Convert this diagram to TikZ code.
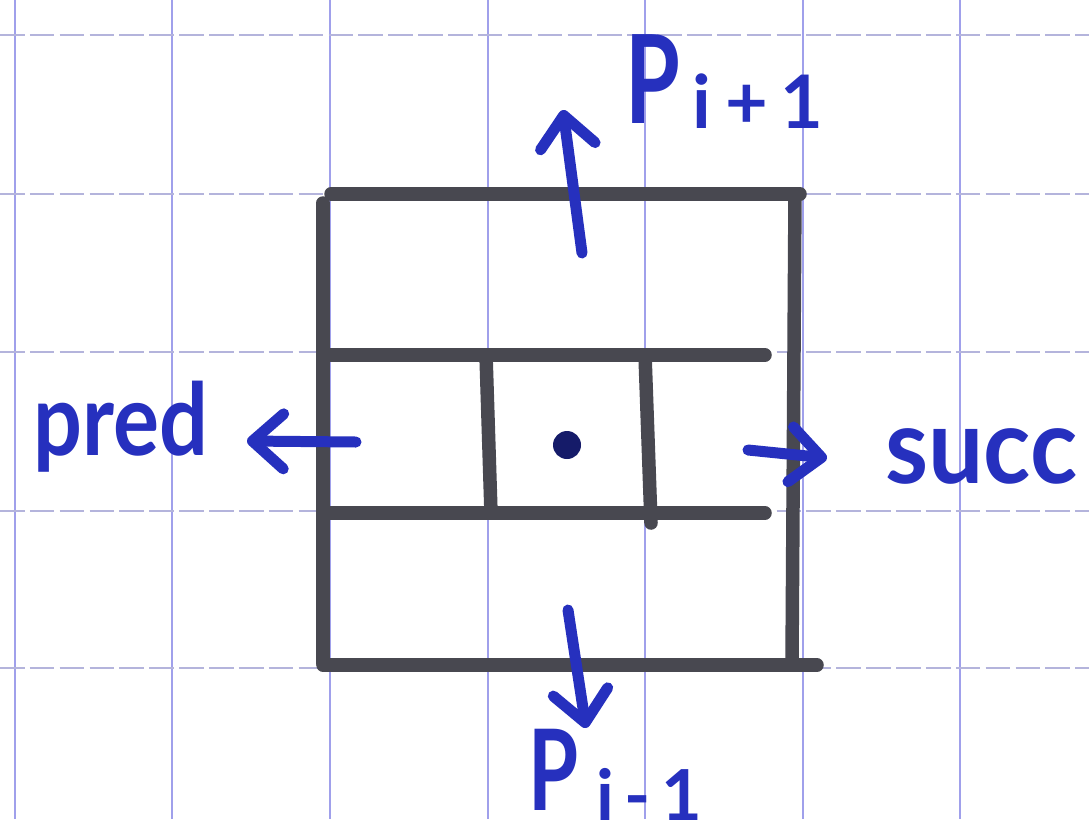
\documentclass[tikz,border=0pt]{standalone}
\usepackage{fontspec}
\setmainfont{Lato}
\usetikzlibrary{arrows.meta}
\definecolor{ink}{RGB}{38,48,190}
\definecolor{frame}{RGB}{72,72,80}
\definecolor{gridv}{RGB}{160,160,235}
\definecolor{gridh}{RGB}{180,180,220}
\begin{document}
\begin{tikzpicture}[x=0.02cm,y=-0.02cm,
  gridvline/.style={draw=gridv,line width=1.3pt},
  gridhline/.style={draw=gridh,line width=1.2pt,dash pattern=on 14pt off 3pt},
  boxline/.style={draw=frame,line width=0.27cm,line cap=round},
  inkarrow/.style={draw=ink,line width=0.22cm,line cap=round,
    -{Straight Barb[length=0.62cm,width=1.1cm,line cap=round,line join=round]}},
  lbl/.style={text=ink,inner sep=0pt,font=\bfseries}]
\useasboundingbox (0,0) rectangle (1089,819);
\clip (0,0) rectangle (1089,819);
\fill[white] (0,0) rectangle (1089,819);
% paper grid
\foreach \gx in {15,172,330,488,645,803,960}
  \draw[gridvline] (\gx,0) -- (\gx,819);
\foreach \gy in {35,194,352,511,668}
  \draw[gridhline] (0,\gy) -- (1089,\gy);
% the cell
\draw[boxline] (331,194) -- (800,194);
\draw[boxline] (323,203) -- (323,663);
\draw[boxline] (795,194) -- (792,663);
\draw[boxline] (323,665) -- (817,665);
\draw[boxline] (323,355) -- (765,355);
\draw[boxline] (323,513) -- (765,513);
\draw[boxline] (486,355) -- (491,513);
\draw[boxline] (645,355) -- (651,523);
\fill[ink!55!black] (567,445) circle (14);
% arrow end points
\coordinate (upS) at (582,253);
\coordinate (upE) at (563,110);
\coordinate (dnS) at (568,610);
\coordinate (dnE) at (586,728);
\coordinate (lfS) at (356,442);
\coordinate (lfE) at (247,441);
\coordinate (rtS) at (748,450);
\coordinate (rtE) at (827,458);
% labels
\node[lbl,anchor=base west] (pup) at (625,123)
  {\scalebox{0.72}[1]{\fontsize{70}{70}\selectfont P}\hspace{7pt}\raisebox{-3pt}{\fontsize{42}{42}\selectfont i\hspace{8pt}+\hspace{7pt}1}};
\node[lbl,anchor=base west] (pdn) at (528,810)
  {\scalebox{0.72}[1]{\fontsize{64}{64}\selectfont P}\hspace{10pt}\raisebox{-6pt}{\fontsize{40}{40}\selectfont i\hspace{6pt}-\hspace{6pt}1}};
\node[lbl,anchor=base west] (pred) at (33,455)
  {\scalebox{0.86}[1]{\fontsize{57}{57}\selectfont pred}};
\node[lbl,anchor=base west] (succ) at (885,483)
  {\scalebox{0.93}[1]{\fontsize{60}{60}\selectfont succ}};
% connectors
\draw[inkarrow] (upS) -- (upE);
\draw[inkarrow] (dnS) -- (dnE);
\draw[inkarrow] (lfS) -- (lfE);
\draw[inkarrow] (rtS) -- (rtE);
\end{tikzpicture}
\end{document}
